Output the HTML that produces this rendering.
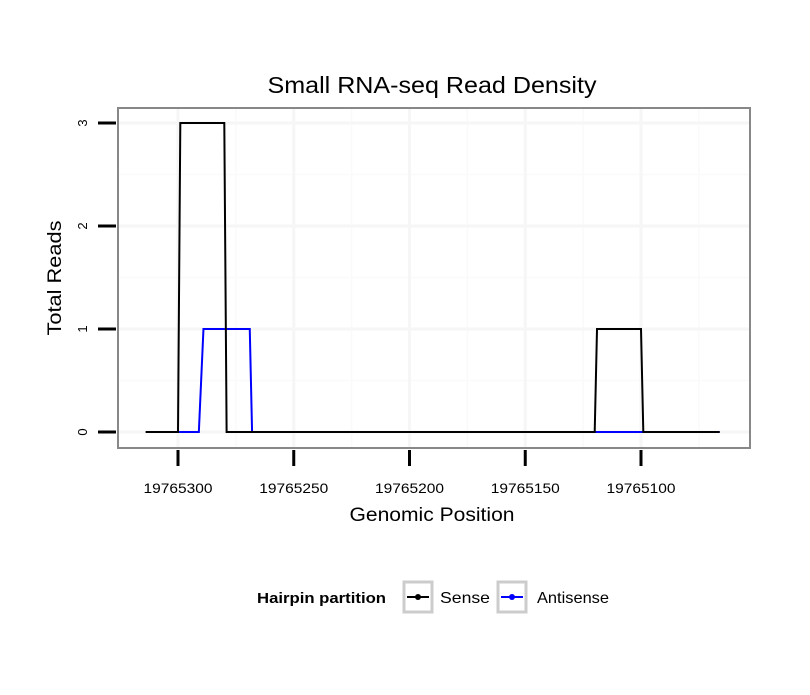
<!DOCTYPE html>
<html><head><meta charset="utf-8"><style>
body{margin:0;background:#fff;}
text{font-family:"Liberation Sans",sans-serif;}
</style></head><body>
<svg width="810" height="690" viewBox="0 0 810 690">
<rect width="810" height="690" fill="#fff"/>
<text x="432" y="93" font-size="23" text-anchor="middle" textLength="329" lengthAdjust="spacingAndGlyphs">Small RNA-seq Read Density</text>
<g id="grid"></g>
<g id="series"></g>
<rect x="118" y="108" width="632" height="340" fill="none" stroke="#888" stroke-width="2"/>
<g id="axes"></g>
<text x="432" y="521" font-size="19" text-anchor="middle" textLength="165" lengthAdjust="spacingAndGlyphs">Genomic Position</text>
<text transform="translate(61,278) rotate(-90)" font-size="19" text-anchor="middle" textLength="115" lengthAdjust="spacingAndGlyphs">Total Reads</text>
<g>
<text x="257" y="603" font-size="15" font-weight="bold" textLength="129" lengthAdjust="spacingAndGlyphs">Hairpin partition</text>
<g>
<rect x="404" y="582" width="28" height="30" fill="#fff" stroke="#ccc" stroke-width="3"/>
<line x1="407" y1="597" x2="429" y2="597" stroke="#000" stroke-width="2"/>
<circle cx="418" cy="597" r="3" fill="#000"/>
<text x="440" y="603" font-size="16" textLength="50" lengthAdjust="spacingAndGlyphs">Sense</text></g>
<g>
<rect x="498" y="582" width="28" height="30" fill="#fff" stroke="#ccc" stroke-width="3"/>
<line x1="501" y1="597" x2="523" y2="597" stroke="#00f" stroke-width="2"/>
<circle cx="512" cy="597" r="3" fill="#00f"/>
<text x="537" y="603" font-size="16" textLength="72" lengthAdjust="spacingAndGlyphs">Antisense</text></g>
</g>
</svg>
<script>
const xTicks=[19765300,19765250,19765200,19765150,19765100];
const xMinor=[19765275,19765225,19765175,19765125,19765075];
const yTicks=[0,1,2,3];
const yMinor=[0.5,1.5,2.5];
const senseX=[19765314,19765300,19765299,19765280,19765279,19765120,19765119,19765100,19765099,19765066];
const senseY=[0,0,3,3,0,0,1,1,0,0];
const antiX=[19765300,19765291,19765289,19765269,19765268,19765066];
const antiY=[0,0,1,1,0,0];
const NS='http://www.w3.org/2000/svg';
const xs=v=>178+(19765300-v)*(463/200);
const ys=v=>432-v*103;
function mk(t,a,p){const e=document.createElementNS(NS,t);for(const k in a)e.setAttribute(k,a[k]);p.appendChild(e);return e;}
const grid=document.getElementById('grid'),axes=document.getElementById('axes'),ser=document.getElementById('series');
xMinor.forEach(v=>{const l=mk('line',{x1:xs(v),x2:xs(v),y1:108,y2:448,stroke:'#fafafa','stroke-width':1.5},grid);

});
yMinor.forEach(v=>{const l=mk('line',{x1:118,x2:750,y1:ys(v),y2:ys(v),stroke:'#fafafa','stroke-width':1.5},grid);

});
xTicks.forEach(v=>{const l=mk('line',{x1:xs(v),x2:xs(v),y1:108,y2:448,stroke:'#f6f6f6','stroke-width':3},grid);


const t=mk('line',{x1:xs(v),x2:xs(v),y1:450,y2:466,stroke:'#000','stroke-width':3},axes);


const tx=mk('text',{x:xs(v),y:493,'font-size':14,'text-anchor':'middle',textLength:69,lengthAdjust:'spacingAndGlyphs'},axes);tx.textContent=v;

});
yTicks.forEach(v=>{const l=mk('line',{x1:118,x2:750,y1:ys(v),y2:ys(v),stroke:'#f6f6f6','stroke-width':3},grid);


const t=mk('line',{x1:98,x2:116,y1:ys(v),y2:ys(v),stroke:'#000','stroke-width':3},axes);


const tx=mk('text',{transform:`translate(87,${ys(v)}) rotate(-90)`,'font-size':13,'text-anchor':'middle'},axes);tx.textContent=v;

});
function path(X,Y,c,name){const d=X.map((x,i)=>(i?'L':'M')+xs(x)+','+ys(Y[i])).join(' ');
const p=mk('path',{d:d,fill:'none',stroke:c,'stroke-width':2},ser);

}
path(antiX,antiY,'#00f','antisense-line');
path(senseX,senseY,'#000','sense-line');
</script>
</body></html>
